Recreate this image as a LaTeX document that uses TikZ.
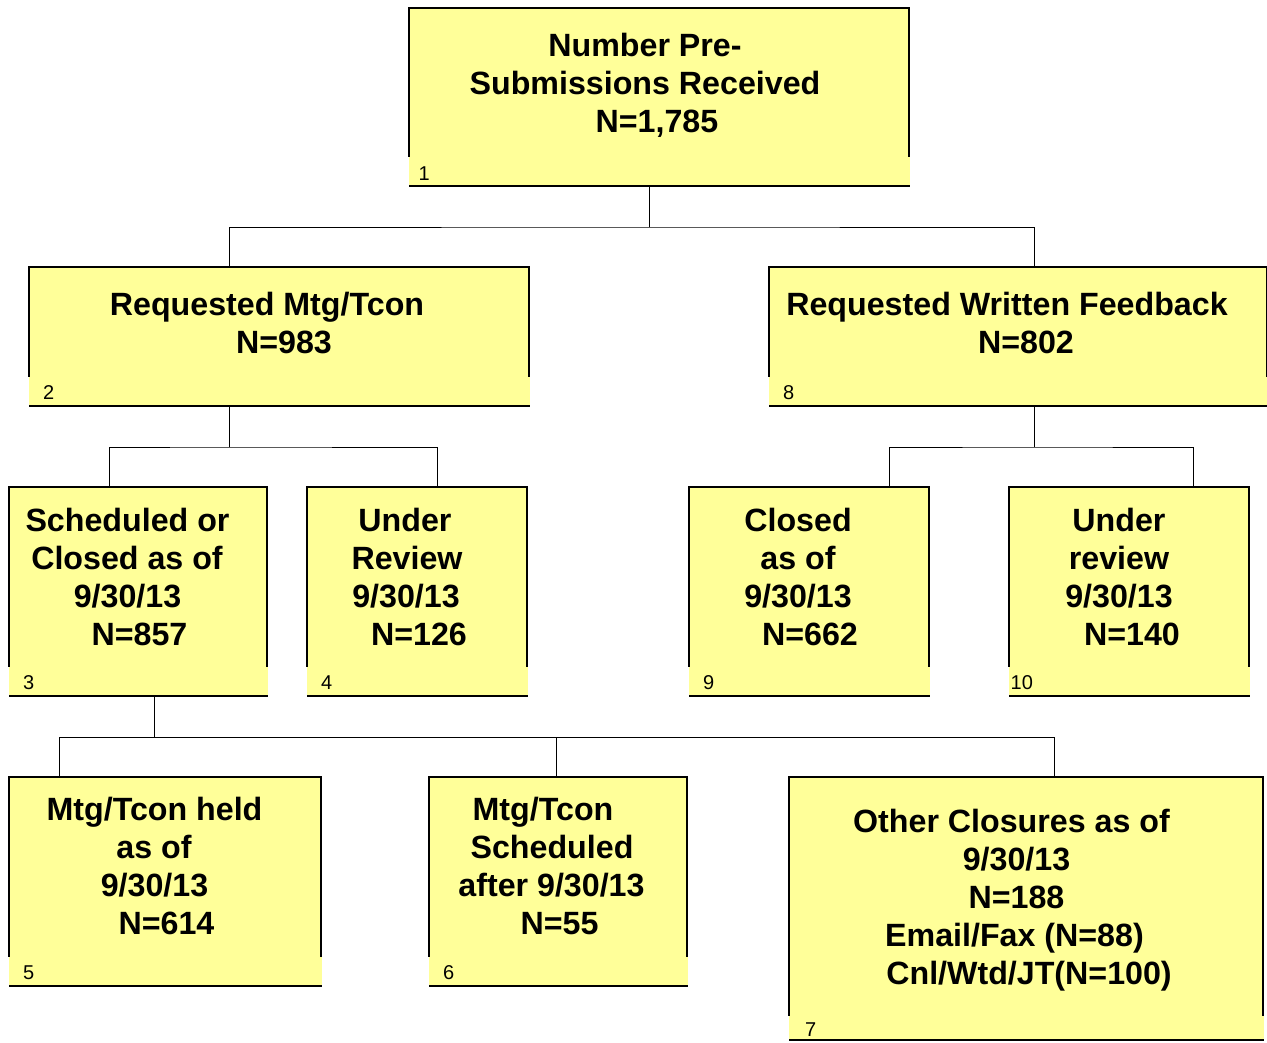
\documentclass[tikz,border=0pt]{standalone}
\usepackage{fontspec}
\setmainfont{Liberation Sans}
\definecolor{boxfill}{RGB}{255,255,153}
\definecolor{stripfill}{RGB}{255,255,153}

% one org-chart box: name, left, top, width, height, strip height, label, label x, label y
\newcommand\orgbox[9]{%
  \node[box, minimum width=#4pt, minimum height=#5pt] (#1) at (#2,#3) {};
  \fill[stripfill] ([yshift=#6pt]#1.south west) rectangle ([xshift=1pt]#1.south east);
  \draw[edge] ([yshift=#6pt]#1.south west) |- (#1.north east) -- ([yshift=#6pt]#1.south east);
  \draw[edge] (#1.south west) -- ([xshift=1pt]#1.south east);
  \node[num] (#1n) at ([xshift=#8pt, yshift=#9pt]#1.south west) {#7};
}
% one centred line of bold text: name, x, baseline y, text
\newcommand\tline[4]{\node[txt] (#1) at (#2,#3) {#4};}

\begin{document}
\begin{tikzpicture}[x=1pt, y=-1pt,
  box/.style={rectangle, fill=boxfill, inner sep=0pt, outer sep=0pt, anchor=north west},
  edge/.style={line width=1.2pt, black},
  link/.style={line width=1pt, black},
  txt/.style={font=\fontsize{32.2}{38}\selectfont\bfseries, anchor=base, inner sep=0pt},
  num/.style={font=\fontsize{20}{22}\selectfont, anchor=base west, inner sep=0pt}]

\fill[white] (0,0) rectangle (1267,1042);
\useasboundingbox (0,0) rectangle (1267,1042);

% boxes
\orgbox{b1}{409}{8}{500}{178}{29.5}{1}{9.5}{6}
\orgbox{b2}{29}{267}{500}{139}{29.5}{2}{14}{6.5}
\orgbox{b8}{769}{267}{498}{139}{29.5}{8}{14}{6.5}
\orgbox{b3}{9}{487}{258}{209}{29.5}{3}{14}{7}
\orgbox{b4}{307}{487}{220}{209}{29.5}{4}{14}{7}
\orgbox{b9}{689}{487}{240}{209}{29.5}{9}{14}{7}
\orgbox{b10}{1009}{487}{240}{209}{29.5}{10}{1.5}{7}
\orgbox{b5}{9}{777}{312}{209}{29.5}{5}{14}{7}
\orgbox{b6}{429}{777}{258}{209}{29.5}{6}{14}{7}
\orgbox{b7}{789}{777}{474}{263}{24.5}{7}{16}{3.5}

% box texts
\tline{t1a}{645}{56}{Number Pre-}
\tline{t1b}{645}{94}{Submissions Received}
\tline{t1c}{657}{132}{N=1,785}

\tline{t2a}{267}{315}{Requested Mtg/Tcon}
\tline{t2b}{284}{353}{N=983}

\tline{t8a}{1007}{315}{Requested Written Feedback}
\tline{t8b}{1026}{353}{N=802}

\tline{t3a}{127.5}{531}{Scheduled or}
\tline{t3b}{127}{569}{Closed as of}
\tline{t3c}{127.5}{607}{9/30/13}
\tline{t3d}{139.5}{645}{N=857}

\tline{t4a}{405}{531}{Under}
\tline{t4b}{407}{569}{Review}
\tline{t4c}{406}{607}{9/30/13}
\tline{t4d}{419}{645}{N=126}

\tline{t9a}{798}{531}{Closed}
\tline{t9b}{798}{569}{as of}
\tline{t9c}{798}{607}{9/30/13}
\tline{t9d}{810}{645}{N=662}

\tline{t10a}{1119}{531}{Under}
\tline{t10b}{1119}{569}{review}
\tline{t10c}{1119}{607}{9/30/13}
\tline{t10d}{1132}{645}{N=140}

\tline{t5a}{154.5}{820}{Mtg/Tcon held}
\tline{t5b}{154}{858}{as of}
\tline{t5c}{154.5}{896}{9/30/13}
\tline{t5d}{166.5}{934}{N=614}

\tline{t6a}{543}{820}{Mtg/Tcon}
\tline{t6b}{552}{858}{Scheduled}
\tline{t6c}{551.5}{896}{after 9/30/13}
\tline{t6d}{559.5}{934}{N=55}

\tline{t7a}{1011.5}{832}{Other Closures as of}
\tline{t7b}{1016.5}{870}{9/30/13}
\tline{t7c}{1016.5}{908}{N=188}
\tline{t7d}{1014.5}{946}{Email/Fax (N=88)}
\tline{t7e}{1029}{984}{Cnl/Wtd/JT(N=100)}

% connectors
\coordinate (j1) at (649,227);
\coordinate (j2) at (229,447);
\coordinate (j8) at (1034,447);
\coordinate (j3) at (154,737);

\draw[link] (b1.south -| j1) -- (j1);
\draw[link] ([xshift=-50pt]b2.north) |- (j1) -| ([xshift=16pt]b8.north);

\draw[link] ([xshift=-50pt]b2.south) -- (j2);
\draw[link] ([xshift=-29pt]b3.north) |- (j2) -| ([xshift=20pt]b4.north);

\draw[link] ([xshift=16pt]b8.south) -- (j8);
\draw[link] ([xshift=80pt]b9.north) |- (j8) -| ([xshift=64pt]b10.north);

\draw[link] ([xshift=16pt]b3.south) -- (j3);
\draw[link] ([xshift=-106pt]b5.north) |- (j3) -| ([xshift=28pt]b7.north);
\draw[link] ([xshift=-2pt]b6.north) -- ([xshift=-2pt]b6.north |- j3);
\end{tikzpicture}
\end{document}
